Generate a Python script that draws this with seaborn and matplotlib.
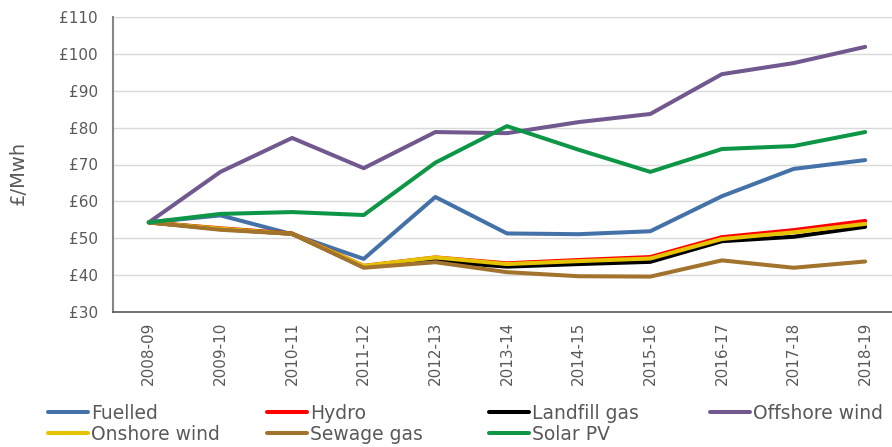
import matplotlib
matplotlib.use("Agg")
import matplotlib.pyplot as plt
import pandas as pd
import seaborn as sns

years = ["2008-09", "2009-10", "2010-11", "2011-12", "2012-13", "2013-14",
         "2014-15", "2015-16", "2016-17", "2017-18", "2018-19"]

fuelled = [54.3, 56.2, 51.1, 44.4, 61.2, 51.3, 51.1, 51.9, 61.4, 68.8, 71.2]
hydro = [54.3, 52.7, 51.3, 42.5, 44.8, 43.2, 44.1, 44.9, 50.3, 52.2, 54.7]
landfill = [54.3, 52.5, 51.2, 42.2, 43.8, 42.3, 43.0, 43.6, 49.2, 50.4, 53.1]
offshore = [54.3, 68.0, 77.2, 69.0, 78.8, 78.5, 81.5, 83.7, 94.5, 97.5, 101.9]
onshore = [54.3, 52.6, 51.2, 42.5, 44.8, 43.0, 43.8, 44.5, 49.8, 51.6, 53.9]
sewage = [54.3, 52.3, 51.2, 42.0, 43.5, 40.8, 39.7, 39.6, 44.0, 42.0, 43.7]
solar = [54.3, 56.6, 57.1, 56.3, 70.5, 80.4, 74.0, 68.0, 74.2, 75.0, 78.8]

series = {
    "Fuelled": fuelled,
    "Hydro": hydro,
    "Landfill gas": landfill,
    "Offshore wind": offshore,
    "Onshore wind": onshore,
    "Sewage gas": sewage,
    "Solar PV": solar,
}
colors = {
    "Fuelled": "#4472a8",
    "Hydro": "#ff0000",
    "Landfill gas": "#000000",
    "Offshore wind": "#71598f",
    "Onshore wind": "#e6c300",
    "Sewage gas": "#a2732d",
    "Solar PV": "#0e9647",
}

rows = []
for name, vals in series.items():
    for yr, v in zip(years, vals):
        rows.append({"year": yr, "cost": v, "type": name})
df = pd.DataFrame(rows)

sns.set_style("white")
plt.rcParams["font.family"] = ["DejaVu Sans"]
text_col = "#595959"

W, H = 892, 447
fig = plt.figure(figsize=(W / 100, H / 100), dpi=100)
ax = fig.add_axes([113 / W, 1 - 312 / H, 788 / W, 295 / H])

sns.lineplot(data=df, x="year", y="cost", hue="type", hue_order=list(series),
             palette=colors, sort=False, linewidth=2.9, legend=False, ax=ax)

ax.set_xlim(-0.5, len(years) - 0.5)
ax.set_ylim(30, 110)
ax.set_yticks(range(30, 111, 10))
ax.set_yticklabels(["£%d" % v for v in range(30, 111, 10)])
ax.set_xticks(range(len(years)))
ax.set_xticklabels(years, rotation=90)
ax.tick_params(axis="both", length=0, labelsize=11, labelcolor=text_col)
ax.tick_params(axis="y", pad=11)
ax.tick_params(axis="x", pad=7)
ax.grid(axis="y", color="#d9d9d9", linewidth=1)
ax.set_axisbelow(True)
for s in ["top", "right"]:
    ax.spines[s].set_visible(False)
ax.spines["left"].set_color("#868686")
ax.spines["left"].set_linewidth(1.5)
ax.spines["bottom"].set_color("#595959")
ax.spines["bottom"].set_linewidth(1.2)
ax.set_xlabel("")
ax.set_ylabel("£/Mwh", fontsize=14, color=text_col)
ax.yaxis.set_label_coords(-0.108, 0.47)

# legend laid out like Excel: equal column starts
columns = [["Fuelled", "Onshore wind"], ["Hydro", "Sewage gas"],
           ["Landfill gas", "Solar PV"], ["Offshore wind"]]
col_x = [48, 267, 489, 710]
for names, x in zip(columns, col_x):
    handles = [plt.Line2D([], [], color=colors[n], linewidth=2.9) for n in names]
    fig.legend(handles, names, loc="upper left", bbox_to_anchor=(x / W, 1 - 404 / H),
               frameon=False, fontsize=13.5, handlelength=2.13, handletextpad=0.17,
               borderpad=0, borderaxespad=0, labelspacing=0.08, labelcolor=text_col)

fig.savefig("out.png", dpi=100)
